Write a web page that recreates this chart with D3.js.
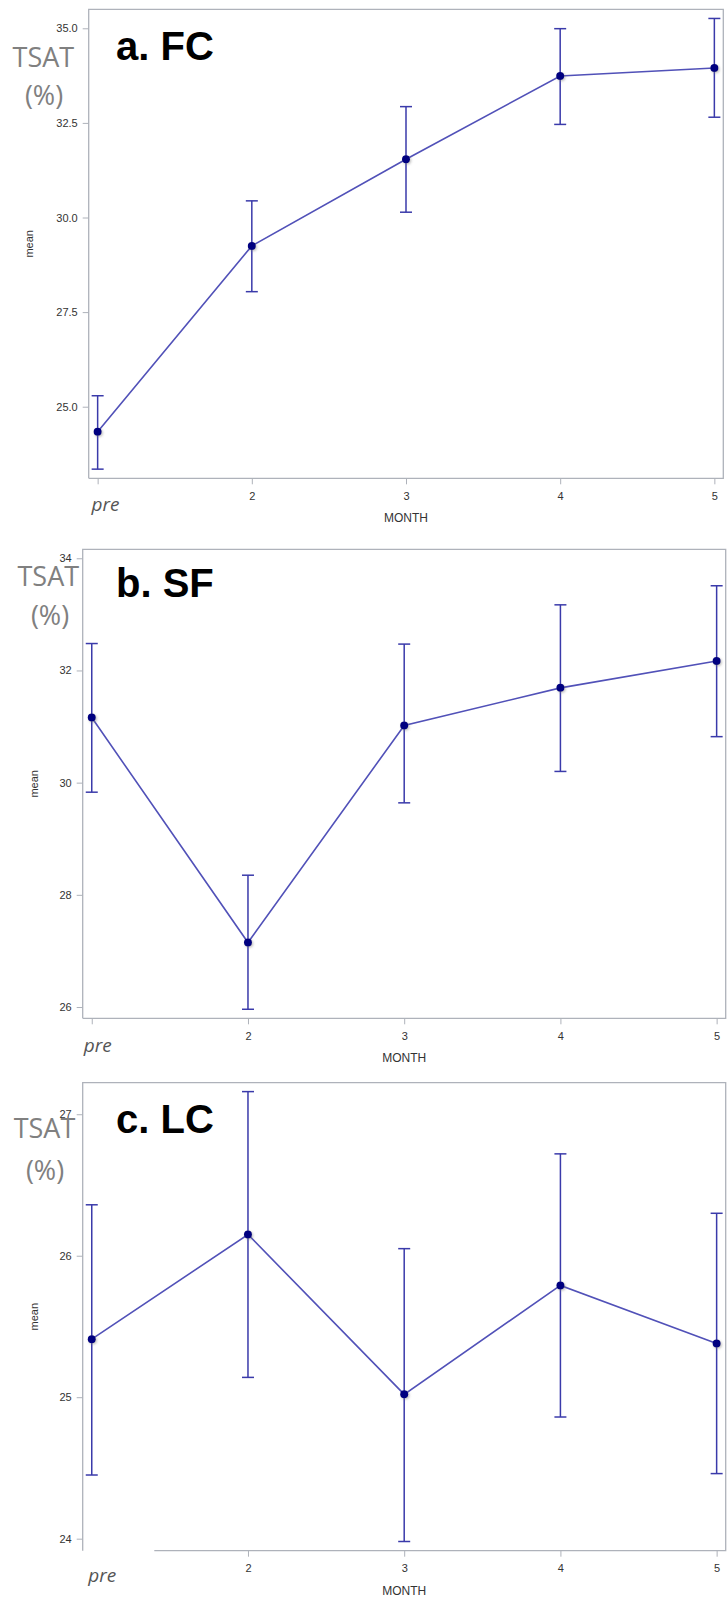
<!DOCTYPE html>
<html>
<head>
<meta charset="utf-8">
<script src="https://cdn.jsdelivr.net/npm/d3@7"></script>
<style>
  body { margin: 0; background: #fff; }
  svg text { font-family: "Liberation Sans", Arial, sans-serif; }
</style>
</head>
<body>
<div id="chart-area"></div>
<script>
// months on the x axis ("pre" stands in for month 1)
var months = [1, 2, 3, 4, 5];
var monthLabels = ["pre", "2", "3", "4", "5"];

// a. FC
var fcMean  = [24.34, 29.25, 31.54, 33.74, 33.95];
var fcLower = [23.35, 28.04, 30.14, 32.46, 32.65];
var fcUpper = [25.29, 30.44, 32.93, 34.99, 35.26];
var fcTicks = [25, 27.5, 30, 32.5, 35];

// b. SF
var sfMean  = [31.16, 27.15, 31.02, 31.69, 32.17];
var sfLower = [29.83, 25.96, 29.64, 30.20, 30.82];
var sfUpper = [32.48, 28.35, 32.47, 33.17, 33.51];
var sfTicks = [26, 28, 30, 32, 34];

// c. LC
var lcMean  = [25.41, 26.15, 25.02, 25.79, 25.38];
var lcLower = [24.45, 25.14, 23.98, 24.86, 24.46];
var lcUpper = [26.36, 27.16, 26.05, 26.72, 26.30];
var lcTicks = [24, 25, 26, 27];

var lineColor = "#5151b8";
var barColor = "#3a3aaa";
var dotColor = "#000080";
var frameColor = "#aeb2ba";

var svg = d3.select("#chart-area").append("svg")
    .attr("width", 728)
    .attr("height", 1601);

// soft shadow under the markers
var defs = svg.append("defs");
var f = defs.append("filter").attr("id", "shadow")
    .attr("x", "-50%").attr("y", "-50%").attr("width", "200%").attr("height", "200%");
f.append("feDropShadow").attr("dx", 1.2).attr("dy", 1.2)
    .attr("stdDeviation", 1.2).attr("flood-color", "#777").attr("flood-opacity", 0.45);

var panels = [
    { left: 88.7, right: 723.3, top: 9.3, bottom: 478.3, yDomain: [23.108, 35.502],
      ticks: fcTicks, fmt: d3.format(".1f"), mean: fcMean, lower: fcLower, upper: fcUpper,
      title: "a. FC", titleY: 60, tsatX: 43.4, tsatY: 66.5, pctX: 44, pctY: 105,
      meanX: 33, preDx: -6.7, preY: 32.7, bottomFrom: null, hideFirst: false },
    { left: 82.7, right: 725.7, top: 549.3, bottom: 1018.3, yDomain: [25.799, 34.16],
      ticks: sfTicks, fmt: d3.format("d"), mean: sfMean, lower: sfLower, upper: sfUpper,
      title: "b. SF", titleY: 596.7, tsatX: 48.3, tsatY: 586.3, pctX: 50, pctY: 625,
      meanX: 38, preDx: -8.4, preY: 33.5, bottomFrom: null, hideFirst: false },
    { left: 82.7, right: 725.7, top: 1082.7, bottom: 1550.7, yDomain: [23.915, 27.223],
      ticks: lcTicks, fmt: d3.format("d"), mean: lcMean, lower: lcLower, upper: lcUpper,
      title: "c. LC", titleY: 1133.3, tsatX: 44.5, tsatY: 1138, pctX: 45, pctY: 1180,
      meanX: 38, preDx: -4, preY: 31.3, bottomFrom: 154.3, hideFirst: true }
];

panels.forEach(drawPanel);

function drawPanel(p) {
    var x = d3.scaleLinear().domain([0.942, 5.058]).range([p.left, p.right]);
    var y = d3.scaleLinear().domain(p.yDomain).range([p.bottom, p.top]);

    var g = svg.append("g");

    // frame
    var bx = p.bottomFrom == null ? p.left : p.bottomFrom;
    g.append("path")
        .attr("d", "M" + bx + "," + p.bottom + "H" + p.right + "V" + p.top +
                   "H" + p.left + "V" + p.bottom)
        .attr("fill", "none")
        .attr("stroke", frameColor)
        .attr("stroke-width", 1.3);

    // y axis
    var yAxis = g.append("g")
        .attr("transform", "translate(" + p.left + ",0)")
        .call(d3.axisLeft(y).tickValues(p.ticks).tickFormat(p.fmt).tickSize(6).tickPadding(5));
    yAxis.select(".domain").remove();
    yAxis.selectAll("line").attr("stroke", frameColor);
    yAxis.selectAll("text").attr("fill", "#333").attr("font-size", "11px")
        .style("font-family", "'Liberation Sans', Arial, sans-serif");

    // x axis
    var xAxis = g.append("g")
        .attr("transform", "translate(0," + p.bottom + ")")
        .call(d3.axisBottom(x).tickValues(months)
            .tickFormat(function (d, i) { return monthLabels[i]; })
            .tickSize(6).tickPadding(8));
    xAxis.select(".domain").remove();
    xAxis.selectAll("line").attr("stroke", frameColor);
    xAxis.selectAll("text").attr("fill", "#333").attr("font-size", "11px")
        .style("font-family", "'Liberation Sans', Arial, sans-serif");

    // "pre" label for month 1
    xAxis.selectAll(".tick").filter(function (d) { return d === 1; })
        .each(function () {
            var t = d3.select(this);
            if (p.hideFirst) t.select("line").remove();
            t.select("text")
                .attr("text-anchor", "start")
                .attr("dy", "0")
                .attr("x", p.preDx)
                .attr("y", p.preY)
                .attr("fill", "#555")
                .attr("font-size", "19px")
                .style("font-style", "italic")
                .style("font-family", "'Open Sans', sans-serif");
        });

    // axis titles
    g.append("text")
        .attr("x", (p.left + p.right) / 2)
        .attr("y", p.bottom + 44)
        .attr("text-anchor", "middle")
        .attr("font-size", "12px")
        .attr("fill", "#333")
        .text("MONTH");

    g.append("text")
        .attr("transform", "translate(" + p.meanX + "," + (p.top + p.bottom) / 2 + ") rotate(-90)")
        .attr("text-anchor", "middle")
        .attr("font-size", "11px")
        .attr("fill", "#333")
        .text("mean");

    // TSAT (%) label
    g.append("text")
        .attr("x", p.tsatX).attr("y", p.tsatY)
        .attr("text-anchor", "middle")
        .attr("font-size", "27px")
        .attr("fill", "#808080")
        .style("font-family", "'Open Sans', sans-serif")
        .text("TSAT");
    g.append("text")
        .attr("x", p.pctX).attr("y", p.pctY)
        .attr("text-anchor", "middle")
        .attr("font-size", "27px")
        .attr("fill", "#808080")
        .style("font-family", "'Open Sans', sans-serif")
        .text("(%)");

    // panel title
    g.append("text")
        .attr("x", 116).attr("y", p.titleY)
        .attr("font-size", "40px")
        .attr("font-weight", "bold")
        .attr("fill", "#000")
        .text(p.title);

    var pts = months.map(function (m, i) {
        return { m: m, mean: p.mean[i], lo: p.lower[i], hi: p.upper[i] };
    });

    // error bars
    var eb = g.selectAll(".err").data(pts).enter().append("g").attr("class", "err")
        .attr("stroke", barColor).attr("stroke-width", 1.5);
    eb.append("line")
        .attr("x1", function (d) { return x(d.m); })
        .attr("x2", function (d) { return x(d.m); })
        .attr("y1", function (d) { return y(d.lo); })
        .attr("y2", function (d) { return y(d.hi); });
    eb.append("line")
        .attr("x1", function (d) { return x(d.m) - 6; })
        .attr("x2", function (d) { return x(d.m) + 6; })
        .attr("y1", function (d) { return y(d.hi); })
        .attr("y2", function (d) { return y(d.hi); });
    eb.append("line")
        .attr("x1", function (d) { return x(d.m) - 6; })
        .attr("x2", function (d) { return x(d.m) + 6; })
        .attr("y1", function (d) { return y(d.lo); })
        .attr("y2", function (d) { return y(d.lo); });

    // mean line
    var line = d3.line()
        .x(function (d) { return x(d.m); })
        .y(function (d) { return y(d.mean); });
    g.append("path")
        .datum(pts)
        .attr("d", line)
        .attr("fill", "none")
        .attr("stroke", lineColor)
        .attr("stroke-width", 1.6);

    // markers
    g.selectAll(".dot").data(pts).enter().append("circle")
        .attr("class", "dot")
        .attr("cx", function (d) { return x(d.m); })
        .attr("cy", function (d) { return y(d.mean); })
        .attr("r", 4)
        .attr("fill", dotColor)
        .attr("filter", "url(#shadow)");
}
</script>
</body>
</html>
